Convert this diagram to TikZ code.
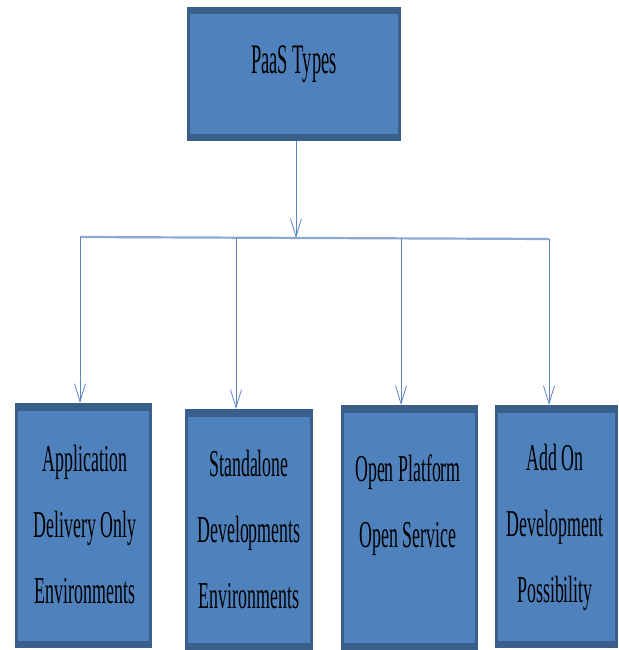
\documentclass[tikz,border=0pt]{standalone}
\usepackage{fontspec}
\setmainfont{Liberation Serif}
\newfontfamily\boxfont[FakeStretch=0.47]{Liberation Serif}
\newfontfamily\topfont[FakeStretch=0.44]{Liberation Serif}
\usetikzlibrary{arrows.meta}
\definecolor{paasfill}{HTML}{4F81BD}
\definecolor{paasedge}{HTML}{3A5F8B}
\definecolor{paasline}{HTML}{5A85C0}
\tikzset{
	typebox/.style={draw=paasedge, fill=paasfill, line width=3pt, inner sep=0pt,
		path picture={
			\fill[paasedge] (path picture bounding box.north west) rectangle ([yshift=-6pt]path picture bounding box.north east);
			\fill[paasedge] (path picture bounding box.south west) rectangle ([yshift=6pt]path picture bounding box.south east);
		}},
	typetext/.style={align=center, inner sep=0pt, font=\boxfont\fontsize{38}{66}\selectfont},
	link/.style={draw=paasline, line width=0.9pt},
	tip/.style={-{Straight Barb[length=18pt, width=11pt, line width=0.8pt]}}
}
\begin{document}
\begin{tikzpicture}[x=1pt, y=-1pt]
		\useasboundingbox (0,0) rectangle (618,650);

		% root
		\node[typebox, minimum width=211pt, minimum height=131pt] (root) at (294,74) {};
		\node[font=\topfont\fontsize{42}{50}\selectfont, inner sep=0pt] (rootlbl) at (294,64) {PaaS Types};

		% the four types
		\node[typebox, minimum width=134pt, minimum height=242pt] (app) at (83.5,525.5) {};
		\node[typebox, minimum width=125pt, minimum height=238pt] (alone) at (249,529.5) {};
		\node[typebox, minimum width=134pt, minimum height=242pt] (open) at (409.5,527.5) {};
		\node[typebox, minimum width=120pt, minimum height=240pt] (addon) at (556,526.5) {};

		\node[typetext] (applbl) at (85,524) {Application\\Delivery Only\\Environments};
		\node[typetext] (alonelbl) at (249,529) {Standalone\\Developments\\Environments};
		\node[typetext] (openlbl) at (408,505) {Open Platform\\Open Service};
		\node[typetext] (addonlbl) at (555,527) {Add On\\Development\\Possibility};

		% bus
		\coordinate (hub) at (296,238);
		\coordinate (j1) at (80,237);
		\coordinate (j2) at (236,238);
		\coordinate (j3) at (401,238);
		\coordinate (j4) at (549,239);
		\draw[link, line width=2.2pt, draw=paasline!70] (j1) -- (j4);

		\draw[link, tip] (root.south -| hub) -- (hub);
		\draw[link, tip] (j1) -- (j1 |- app.north);
		\draw[link, tip] (j2) -- (j2 |- alone.north);
		\draw[link, tip] (j3) -- (j3 |- open.north);
		\draw[link, tip] (j4) -- (j4 |- addon.north);
	\end{tikzpicture}
\end{document}
